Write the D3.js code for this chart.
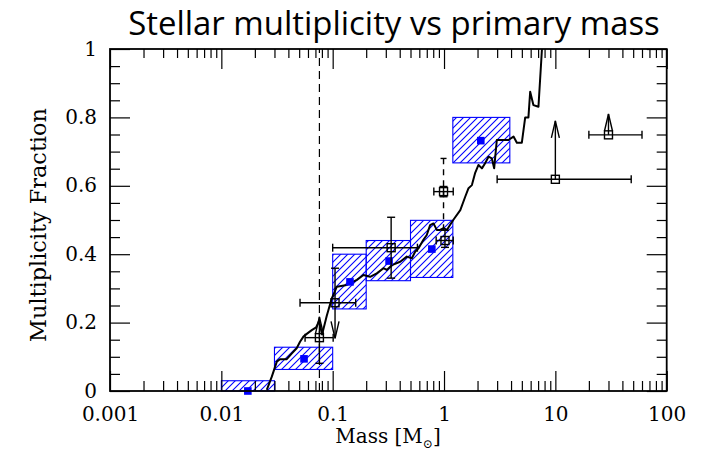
<!DOCTYPE html>
<html><head><meta charset="utf-8">
<script src="https://cdn.jsdelivr.net/npm/d3@7"></script>
<style>body{margin:0;background:#fff} svg{display:block}</style>
</head><body><svg id="c" width="706" height="456"></svg>
<script>
// ---------- data ----------
const xTicks = [0.001, 0.01, 0.1, 1, 10, 100];
const xTickLabels = ["0.001", "0.01", "0.1", "1", "10", "100"];
const yTicks = [0, 0.2, 0.4, 0.6, 0.8, 1];
const yTickLabels = ["0", "0.2", "0.4", "0.6", "0.8", "1"];

// blue hatched boxes (mass range x multiplicity range) and their central points
const boxMassLo = [0.01, 0.03, 0.1, 0.2, 0.5, 1.2];
const boxMassHi = [0.03, 0.1, 0.2, 0.5, 1.2, 3.9];
const boxFracLo = [0, 0.063, 0.24, 0.3225, 0.332, 0.667];
const boxFracHi = [0.03, 0.128, 0.40, 0.44, 0.499, 0.80];
const boxPointMass = [0.0173, 0.0553, 0.143, 0.321, 0.777, 2.14];
const boxPointFrac = [0, 0.094, 0.319, 0.38, 0.415, 0.732];

// black curve
const curveMass = [0.0256,0.0284,0.0315,0.0336,0.0387,0.0430,0.0475,0.0509,0.0546,0.0585,0.0649,0.0710,0.0755,0.0803,0.0885,0.0982,
  0.109,0.134,0.165,0.189,0.217,0.249,0.286,0.306,0.340,0.404,0.463,0.514,0.550,0.589,0.653,0.700,0.750,0.804,0.861,0.923,0.989,1.06,
  1.21,1.40,1.55,1.66,1.78,1.90,2.04,2.19,2.34,2.51,2.69,2.82,2.98,3.79,4.21,4.51,5.00,5.36,5.73,5.94,6.35,7.05,7.57,7.93];
const curveFrac = [0.003,0.042,0.086,0.093,0.093,0.110,0.125,0.144,0.159,0.167,0.178,0.186,0.205,0.165,0.22,0.271,
  0.305,0.310,0.325,0.339,0.334,0.344,0.359,0.354,0.368,0.378,0.393,0.388,0.407,0.417,0.442,0.456,0.485,0.490,0.471,0.471,0.476,0.471,
  0.500,0.529,0.568,0.593,0.602,0.637,0.661,0.651,0.666,0.685,0.680,0.651,0.734,0.734,0.744,0.726,0.726,0.800,0.800,0.875,0.836,0.831,0.997,1.03];

// open-square survey points with error bars / limits
const ptMass   = [0.076, 0.105, 0.335, 1.02, 0.99, 10, 30];
const ptFrac   = [0.156, 0.258, 0.419, 0.44, 0.583, 0.619, 0.749];
const ptMassLo = [0.0565, 0.0509, 0.1, 0.85, 0.81, 3, 20];
const ptMassHi = [0.101, 0.161, 0.577, 1.21, 1.21, 48, 60];
const ptFracLo = [0.081, 0.154, 0.33, 0.42, 0.568, 0.619, 0.749];
const ptFracHi = [0.217, 0.359, 0.508, 0.47, 0.598, 0.79, 0.81];
const ptTopEnd = ["arrow", "cap", "cap", "cap", "cap", "arrow", "arrow"];
const ptBotEnd = ["cap", "arrow", "cap", "cap", "cap", "none", "none"];
// dashed extra range for the ~1 Msun point
const dashPtMass = [0.99];
const dashPtLo = [0.47];
const dashPtHi = [0.68];

// vertical dashed line (substellar limit)
const limitMass = [0.076];

// ---------- layout ----------
const svg = d3.select("#c");
const L = 110, R = 666.7, T = 49, B = 391;
const x = d3.scaleLog().domain([0.001, 100]).range([L, R]);
const y = d3.scaleLinear().domain([0, 1]).range([B, T]);

const defs = svg.append("defs");
const pat = defs.append("pattern").attr("id", "hatch").attr("patternUnits", "userSpaceOnUse")
  .attr("width", 7).attr("height", 7);
pat.append("path").attr("d", "M-1,1 l2,-2 M0,7 l7,-7 M6,8 l2,-2")
  .attr("stroke", "#0000ff").attr("stroke-width", 1.1);
defs.append("clipPath").attr("id", "clip").append("rect")
  .attr("x", L).attr("y", T).attr("width", R - L).attr("height", B - T);

// title
const title = svg.append("text").attr("x", (128 + 660) / 2).attr("y", 35)
  .attr("text-anchor", "middle").attr("font-family", "Open Sans, sans-serif")
  .attr("font-size", 30).attr("fill", "#000").text("Stellar multiplicity vs primary mass");
function fit(sel, w) {
  const l = sel.node().getComputedTextLength();
  sel.attr("font-size", parseFloat(sel.attr("font-size")) * w / l);
}
fit(title, 532);

// boxes
const plot = svg.append("g");
boxMassLo.forEach((m, i) => {
  plot.append("rect")
    .attr("x", x(m)).attr("y", y(boxFracHi[i]))
    .attr("width", x(boxMassHi[i]) - x(m)).attr("height", y(boxFracLo[i]) - y(boxFracHi[i]))
    .attr("fill", "url(#hatch)").attr("stroke", "#0000ff").attr("stroke-width", 1.1);
});

// dashed limit line
limitMass.forEach(m => {
  plot.append("line").attr("x1", x(m)).attr("x2", x(m)).attr("y1", y(0)).attr("y2", y(1))
    .attr("stroke", "#000").attr("stroke-width", 1.2).attr("stroke-dasharray", "8,5");
});

// curve
const line = d3.line().x(d => x(d[0])).y(d => y(d[1]));
plot.append("path").attr("clip-path", "url(#clip)")
  .attr("d", line(curveMass.map((m, i) => [m, curveFrac[i]])))
  .attr("fill", "none").attr("stroke", "#000").attr("stroke-width", 2).attr("stroke-linejoin", "round");

// blue points
boxPointMass.forEach((m, i) => {
  plot.append("rect").attr("x", x(m) - 3.8).attr("y", y(boxPointFrac[i]) - 3.8)
    .attr("width", 7.6).attr("height", 7.6).attr("fill", "#0000ff");
});

// black points
const pg = plot.append("g").attr("stroke", "#000").attr("stroke-width", 1.4).attr("fill", "none");
const cap = 4, aw = 4, al = 17;
dashPtMass.forEach((m, i) => {
  const cx = x(m);
  pg.append("line").attr("x1", cx).attr("x2", cx).attr("y1", y(dashPtLo[i])).attr("y2", y(dashPtHi[i]))
    .attr("stroke-dasharray", "6,5");
  pg.append("line").attr("x1", cx - 3).attr("x2", cx + 3).attr("y1", y(dashPtHi[i])).attr("y2", y(dashPtHi[i]));
});
ptMass.forEach((m, i) => {
  const cx = x(m), cy = y(ptFrac[i]);
  const x0 = x(ptMassLo[i]), x1 = x(ptMassHi[i]);
  pg.append("line").attr("x1", x0).attr("x2", x1).attr("y1", cy).attr("y2", cy);
  pg.append("line").attr("x1", x0).attr("x2", x0).attr("y1", cy - cap).attr("y2", cy + cap);
  pg.append("line").attr("x1", x1).attr("x2", x1).attr("y1", cy - cap).attr("y2", cy + cap);
  const yt = y(ptFracHi[i]), yb = y(ptFracLo[i]);
  pg.append("line").attr("x1", cx).attr("x2", cx).attr("y1", yt).attr("y2", yb);
  if (ptTopEnd[i] === "cap") pg.append("line").attr("x1", cx - cap).attr("x2", cx + cap).attr("y1", yt).attr("y2", yt);
  if (ptTopEnd[i] === "arrow") pg.append("polyline").attr("points", `${cx - aw},${yt + al} ${cx},${yt} ${cx + aw},${yt + al}`);
  if (ptBotEnd[i] === "cap") pg.append("line").attr("x1", cx - cap).attr("x2", cx + cap).attr("y1", yb).attr("y2", yb);
  if (ptBotEnd[i] === "arrow") pg.append("polyline").attr("points", `${cx - aw},${yb - al} ${cx},${yb} ${cx + aw},${yb - al}`);
  pg.append("rect").attr("x", cx - 4).attr("y", cy - 4).attr("width", 8).attr("height", 8);
});

// ---------- axes ----------
const minorX = [];
for (let e = -3; e < 2; e++) for (let k = 2; k <= 9; k++) minorX.push(k * Math.pow(10, e));
const minorY = d3.range(0, 1.0001, 0.05).filter(v => Math.abs(v * 5 - Math.round(v * 5)) > 1e-6);
const tickStyle = g => { g.select(".domain").remove(); g.selectAll("line").attr("stroke", "#000").attr("stroke-width", 1.2); };

svg.append("g").attr("transform", `translate(0,${B})`)
  .call(d3.axisBottom(x).tickValues(minorX).tickSize(-10).tickFormat("")).call(tickStyle);
svg.append("g").attr("transform", `translate(0,${T})`)
  .call(d3.axisTop(x).tickValues(minorX).tickSize(-9).tickFormat("")).call(tickStyle);
svg.append("g").attr("transform", `translate(0,${T})`)
  .call(d3.axisTop(x).tickValues(xTicks).tickSize(-20).tickFormat("")).call(tickStyle);
const xb = svg.append("g").attr("transform", `translate(0,${B})`)
  .call(d3.axisBottom(x).tickValues(xTicks).tickSize(-20).tickFormat((d, i) => xTickLabels[i])).call(tickStyle);
xb.selectAll("text").attr("y", 29.5).attr("dy", 0).attr("fill", "#000")
  .attr("font-family", "DejaVu Serif, serif").attr("font-size", 20);

svg.append("g").attr("transform", `translate(${L},0)`)
  .call(d3.axisLeft(y).tickValues(minorY).tickSize(-10).tickFormat("")).call(tickStyle);
svg.append("g").attr("transform", `translate(${R},0)`)
  .call(d3.axisRight(y).tickValues(minorY).tickSize(-10).tickFormat("")).call(tickStyle);
svg.append("g").attr("transform", `translate(${R},0)`)
  .call(d3.axisRight(y).tickValues(yTicks).tickSize(-20).tickFormat("")).call(tickStyle);
const yl = svg.append("g").attr("transform", `translate(${L},0)`)
  .call(d3.axisLeft(y).tickValues(yTicks).tickSize(-20).tickPadding(13).tickFormat((d, i) => yTickLabels[i])).call(tickStyle);
yl.selectAll("text").attr("fill", "#000").attr("dy", "0.3em")
  .attr("font-family", "DejaVu Serif, serif").attr("font-size", 20);

// frame
svg.append("rect").attr("x", L).attr("y", T).attr("width", R - L).attr("height", B - T)
  .attr("fill", "none").attr("stroke", "#000").attr("stroke-width", 1.8);

// axis titles
const xt = svg.append("text").attr("x", 388).attr("y", 443).attr("text-anchor", "middle")
  .attr("font-family", "DejaVu Serif, serif").attr("font-size", 20).attr("fill", "#000");
xt.append("tspan").text("Mass [M");
xt.append("tspan").attr("font-size", 12).attr("dy", 5).text("\u2299");
xt.append("tspan").attr("dy", -5).text("]");

const ytl = svg.append("text").attr("transform", "translate(46,225) rotate(-90)")
  .attr("text-anchor", "middle").attr("font-family", "DejaVu Serif, serif")
  .attr("font-size", 20).attr("fill", "#000").text("Multiplicity Fraction");
fit(ytl, 234);
</script></body></html>
